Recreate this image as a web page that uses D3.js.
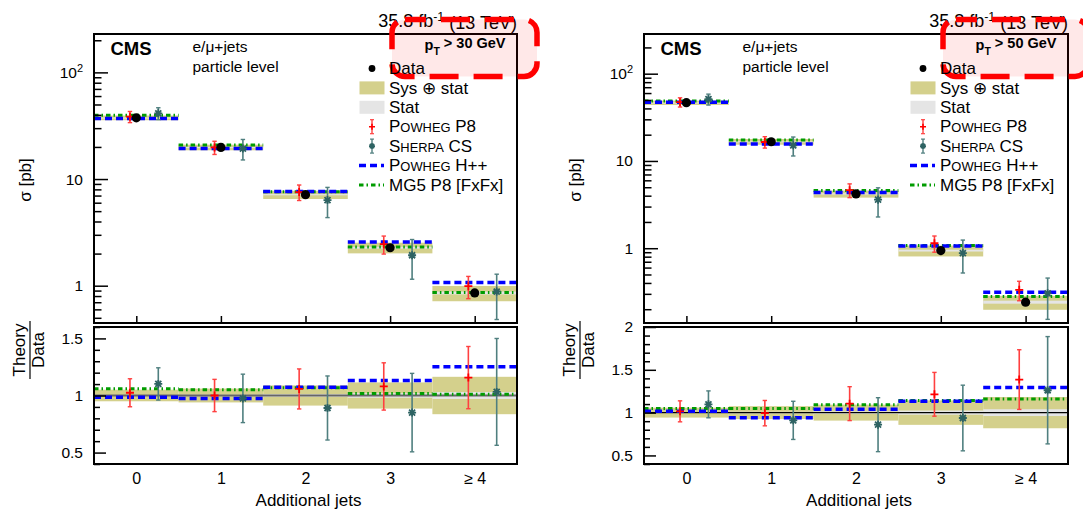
<!DOCTYPE html>
<html>
<head>
<meta charset="utf-8">
<script src="https://cdn.jsdelivr.net/npm/d3@7"></script>
<style>
  html, body { margin: 0; padding: 0; background: #fff; }
  svg { display: block; }
  text { font-family: "Liberation Sans", Arial, Helvetica, sans-serif; fill: #000; }
</style>
</head>
<body>
<svg id="chart" width="1083" height="513"></svg>
<script>
// Jet multiplicity bins
const categories = ["0", "1", "2", "3", "≥ 4"];
const xsTickValues = [1, 10, 100];
const ratioTicks30 = [0.5, 1, 1.5];
const ratioTicks50 = [0.5, 1, 1.5, 2];
const legendLabels = ["Data", "Sys ⊕ stat", "Stat", "Powheg P8", "Sherpa CS", "Powheg H++", "MG5 P8 [FxFx]"];

// pT > 30 GeV: cross sections in pb
const data30 = [37.5, 19.8, 7.13, 2.27, 0.855];
const sysStat30 = [1.9, 1.2, 0.63, 0.26, 0.14];
const stat30 = [0.19, 0.14, 0.085, 0.045, 0.026];
const powhegP8_30 = [38.4, 19.8, 7.54, 2.45, 0.989];
const powhegP8Err30 = [4.6, 2.8, 1.25, 0.47, 0.233];
const sherpa30 = [41.3, 19.3, 6.35, 1.93, 0.882];
const sherpaErr30 = [5.3, 4.2, 2.0, 0.78, 0.40];
const powhegHpp30 = [36.9, 19.3, 7.64, 2.57, 1.07];
const mg5_30 = [39.7, 20.8, 7.61, 2.31, 0.864];

// pT > 50 GeV: cross sections in pb
const data50 = [46.5, 16.6, 4.19, 0.939, 0.241];
const sysStat50 = [2.7, 1.25, 0.39, 0.134, 0.044];
const stat50 = [0.33, 0.17, 0.063, 0.023, 0.0096];
const powhegP8_50 = [47.2, 16.5, 4.63, 1.14, 0.334];
const powhegP8Err50 = [5.7, 2.46, 0.83, 0.24, 0.084];
const sherpa50 = [51.0, 15.1, 3.60, 0.88, 0.304];
const sherpaErr50 = [7.3, 3.7, 1.32, 0.36, 0.151];
const powhegHpp50 = [47.2, 15.6, 4.35, 1.063, 0.312];
const mg5_50 = [48.8, 17.4, 4.58, 1.071, 0.279];

const COLORS = {
  band: "#d4d08c",
  stat: "#e5e5e5",
  p8: "#ff0000",
  p8Err: "#ff4040",
  sherpa: "#2e6363",
  sherpaErr: "#4f7f7f",
  hpp: "#0000ff",
  mg5: "#009c00"
};
const HPP_DASH = "7,4";
const MG5_DASH = "4.5,3,1.5,3";
const FONT = 17;

const svg = d3.select("#chart");
const defs = svg.append("defs");

const TOP = 34, MID = 323, LOW_TOP = 327, BOTTOM = 464;

// text with small caps for generator names
function smallCapsText(sel, label, size) {
  const words = label.split(" ");
  words.forEach((w, k) => {
    const sep = k > 0 ? " " : "";
    if (w === "Powheg" || w === "Sherpa") {
      sel.append("tspan").attr("font-size", size).text(sep + w[0]);
      sel.append("tspan").attr("font-size", size * 0.76).text(w.slice(1).toUpperCase());
    } else {
      sel.append("tspan").attr("font-size", size).text(sep + w);
    }
  });
}

const plusPath = "M-4,0H4M0,-4V4";
const starPath = "M-4,0H4M0,-4V4M-3,-3L3,3M-3,3L3,-3";

function drawPanel(p, idx) {
  const g = svg.append("g");
  const x = d3.scaleLinear().domain([-0.5, 4.5]).range([p.left, p.right]);
  const y = d3.scaleLog().domain(p.xsDomain).range([MID, TOP]);
  const r = d3.scaleLinear().domain(p.ratioDomain).range([BOTTOM, LOW_TOP]);
  const bins = d3.range(categories.length);
  const bw = x(0.5) - x(-0.5);

  const clipU = "clipU" + idx, clipL = "clipL" + idx;
  defs.append("clipPath").attr("id", clipU).append("rect")
    .attr("x", p.left).attr("y", TOP).attr("width", p.right - p.left).attr("height", MID - TOP);
  defs.append("clipPath").attr("id", clipL).append("rect")
    .attr("x", p.left).attr("y", LOW_TOP).attr("width", p.right - p.left).attr("height", BOTTOM - LOW_TOP);

  const up = g.append("g").attr("clip-path", `url(#${clipU})`);
  const lo = g.append("g").attr("clip-path", `url(#${clipL})`);

  // ----- upper panel: cross sections -----
  up.selectAll("rect.sys").data(bins).join("rect").attr("class", "sys")
    .attr("x", i => x(i - 0.5)).attr("width", bw)
    .attr("y", i => y(p.data[i] + p.sys[i]))
    .attr("height", i => y(p.data[i] - p.sys[i]) - y(p.data[i] + p.sys[i]))
    .attr("fill", COLORS.band);
  up.selectAll("rect.stat").data(bins).join("rect").attr("class", "stat")
    .attr("x", i => x(i - 0.5)).attr("width", bw)
    .attr("y", i => y(p.data[i] + p.stat[i]))
    .attr("height", i => Math.max(1, y(p.data[i] - p.stat[i]) - y(p.data[i] + p.stat[i])))
    .attr("fill", COLORS.stat);

  function steps(layer, vals, yScale, color, dash, width) {
    layer.append("g").selectAll("line").data(bins).join("line")
      .attr("x1", i => x(i - 0.5)).attr("x2", i => x(i + 0.5))
      .attr("y1", i => yScale(vals[i])).attr("y2", i => yScale(vals[i]))
      .attr("stroke", color).attr("stroke-width", width).attr("stroke-dasharray", dash);
  }
  function points(layer, vals, errs, yScale, off, color, errColor, marker) {
    const gg = layer.append("g");
    bins.forEach(i => {
      const cx = x(i + off);
      const y1 = yScale(vals[i] + errs[i]), y2 = yScale(Math.max(vals[i] - errs[i], 1e-3));
      gg.append("line").attr("x1", cx).attr("x2", cx).attr("y1", y1).attr("y2", y2)
        .attr("stroke", errColor).attr("stroke-width", 1.6);
      [y1, y2].forEach(yy => gg.append("line").attr("x1", cx - 2.2).attr("x2", cx + 2.2)
        .attr("y1", yy).attr("y2", yy).attr("stroke", errColor).attr("stroke-width", 1.4));
      gg.append("path").attr("d", marker).attr("transform", `translate(${cx},${yScale(vals[i])})`)
        .attr("stroke", color).attr("stroke-width", 1.8).attr("fill", "none");
    });
  }

  steps(up, p.mg5, y, COLORS.mg5, MG5_DASH, 3);
  steps(up, p.hpp, y, COLORS.hpp, HPP_DASH, 3.5);
  points(up, p.p8, p.p8Err, y, -0.075, COLORS.p8, COLORS.p8Err, plusPath);
  points(up, p.sherpa, p.sherpaErr, y, 0.26, COLORS.sherpa, COLORS.sherpaErr, starPath);
  up.selectAll("circle").data(bins).join("circle")
    .attr("cx", i => x(i)).attr("cy", i => y(p.data[i])).attr("r", 4.6).attr("fill", "#000");

  // ----- lower panel: theory / data -----
  const rel = (arr) => arr.map((v, i) => v / p.data[i]);
  const sysR = rel(p.sys), statR = rel(p.stat);
  lo.selectAll("rect.sys").data(bins).join("rect").attr("class", "sys")
    .attr("x", i => x(i - 0.5)).attr("width", bw)
    .attr("y", i => r(1 + sysR[i])).attr("height", i => r(1 - sysR[i]) - r(1 + sysR[i]))
    .attr("fill", COLORS.band);
  lo.selectAll("rect.stat").data(bins).join("rect").attr("class", "stat")
    .attr("x", i => x(i - 0.5)).attr("width", bw)
    .attr("y", i => r(1 + statR[i])).attr("height", i => r(1 - statR[i]) - r(1 + statR[i]))
    .attr("fill", COLORS.stat);
  lo.append("line").attr("x1", p.left).attr("x2", p.right).attr("y1", r(1)).attr("y2", r(1))
    .attr("stroke", p.unityColor).attr("stroke-width", p.unityWidth);
  steps(lo, rel(p.mg5), r, COLORS.mg5, MG5_DASH, 3);
  steps(lo, rel(p.hpp), r, COLORS.hpp, HPP_DASH, 3.5);
  points(lo, rel(p.p8), rel(p.p8Err), r, -0.075, COLORS.p8, COLORS.p8Err, plusPath);
  points(lo, rel(p.sherpa), rel(p.sherpaErr), r, 0.26, COLORS.sherpa, COLORS.sherpaErr, starPath);

  // ----- axes -----
  const [lo10, hi10] = p.xsDomain.map(Math.log10);
  const minorVals = [];
  for (let e = Math.floor(lo10); e <= Math.ceil(hi10); e++) {
    for (let m = 2; m <= 9; m++) {
      const v = m * Math.pow(10, e);
      if (v > p.xsDomain[0] && v < p.xsDomain[1]) minorVals.push(v);
    }
  }
  const yMinor = g.append("g").attr("transform", `translate(${p.left},0)`)
    .call(d3.axisLeft(y).tickValues(minorVals).tickSize(-7.5).tickFormat(""));
  const yMajor = g.append("g").attr("transform", `translate(${p.left},0)`)
    .call(d3.axisLeft(y).tickValues(xsTickValues).tickSize(-14).tickPadding(11).tickFormat(d => d === 100 ? "10" : String(d)));
  yMajor.selectAll(".tick text").filter(d => d === 100)
    .append("tspan").attr("dy", "-0.55em").attr("font-size", 11).text("2");

  const rMinorVals = d3.range(Math.ceil(p.ratioDomain[0] * 10), Math.floor(p.ratioDomain[1] * 10) + 1)
    .map(k => k / 10).filter(v => Math.abs(v * 2 - Math.round(v * 2)) > 1e-6);
  const rMinor = g.append("g").attr("transform", `translate(${p.left},0)`)
    .call(d3.axisLeft(r).tickValues(rMinorVals).tickSize(-6).tickFormat(""));
  const rMajor = g.append("g").attr("transform", `translate(${p.left},0)`)
    .call(d3.axisLeft(r).tickValues(p.ratioTicks).tickSize(-12).tickPadding(11).tickFormat(d3.format("")));

  const xUpper = g.append("g").attr("transform", `translate(0,${MID})`)
    .call(d3.axisBottom(x).tickValues(bins).tickSize(-7).tickFormat(""));
  const xLower = g.append("g").attr("transform", `translate(0,${BOTTOM})`)
    .call(d3.axisBottom(x).tickValues(bins).tickSize(0).tickPadding(9).tickFormat(i => categories[i]));

  [yMinor, yMajor, rMinor, rMajor, xUpper, xLower].forEach(a => {
    a.select(".domain").remove();
    a.selectAll(".tick line").attr("stroke", "#000").attr("stroke-width", 1.5);
    a.selectAll(".tick text").attr("font-size", FONT - 1.5)
      .attr("font-family", '"Liberation Sans", Arial, sans-serif').attr("fill", "#000");
  });
  xLower.selectAll(".tick text").attr("font-size", FONT - 1);

  // frames
  g.append("rect").attr("x", p.left).attr("y", TOP).attr("width", p.right - p.left).attr("height", MID - TOP)
    .attr("fill", "none").attr("stroke", "#000").attr("stroke-width", 2);
  g.append("rect").attr("x", p.left).attr("y", LOW_TOP).attr("width", p.right - p.left).attr("height", BOTTOM - LOW_TOP)
    .attr("fill", "none").attr("stroke", "#000").attr("stroke-width", 2);

  // axis titles
  g.append("text").attr("x", (p.left + p.right) / 2 + 3).attr("y", 506)
    .attr("text-anchor", "middle").attr("font-size", FONT).text("Additional jets");
  const sig = g.append("text").attr("transform", `translate(${p.left - 63},180) rotate(-90)`)
    .attr("text-anchor", "middle").attr("font-size", FONT);
  sig.append("tspan").text("σ [pb]");
  const frac = g.append("g").attr("transform", `translate(${p.left - 64},350) rotate(-90)`);
  frac.append("text").attr("text-anchor", "middle").attr("y", -5).attr("font-size", FONT).text("Theory");
  frac.append("line").attr("x1", -29).attr("x2", 29).attr("y1", 0).attr("y2", 0)
    .attr("stroke", "#000").attr("stroke-width", 1.2);
  frac.append("text").attr("text-anchor", "middle").attr("y", 14).attr("font-size", FONT).text("Data");

  // labels inside the frame
  g.append("text").attr("x", p.left + 16.5).attr("y", 55).attr("font-size", 18.5)
    .attr("font-weight", "bold").text("CMS");
  g.append("text").attr("x", p.left + 98.5).attr("y", 52).attr("font-size", 15.5).text("e/μ+jets");
  g.append("text").attr("x", p.left + 98.5).attr("y", 72).attr("font-size", 15.5).text("particle level");

  // luminosity
  const lumi = g.append("text").attr("x", p.right).attr("y", 27).attr("text-anchor", "end").attr("font-size", 18);
  lumi.append("tspan").text("35.8 fb");
  lumi.append("tspan").attr("dy", "-0.45em").attr("font-size", 12.5).text("-1");
  lumi.append("tspan").attr("dy", "0.45em").text(" (13 TeV)");

  // highlighted pT threshold
  g.append("rect").attr("x", p.right - 125).attr("y", 19.5).attr("width", 145).attr("height", 57)
    .attr("rx", 13).attr("ry", 13)
    .attr("fill", "rgba(255,0,0,0.09)").attr("stroke", "#ff0000").attr("stroke-width", 5.5)
    .attr("stroke-dasharray", "29,15").attr("stroke-dashoffset", 8);
  const pt = g.append("text").attr("x", p.right - 11.5).attr("y", 50).attr("text-anchor", "end")
    .attr("font-size", 14.5).attr("font-weight", "bold");
  pt.append("tspan").text("p");
  pt.append("tspan").attr("dy", "0.45em").attr("font-size", 10.5).text("T");
  pt.append("tspan").attr("dy", "-0.45em").text(` > ${p.ptCut} GeV`);

  // legend
  const lg = g.append("g");
  const mx = p.right - 145;
  legendLabels.forEach((label, k) => {
    const ly = 68.5 + k * 19.4;
    const t = lg.append("text").attr("x", p.right - 128).attr("y", ly).attr("dy", "0.36em");
    smallCapsText(t, label, FONT);
    if (k === 0) {
      lg.append("circle").attr("cx", mx).attr("cy", ly).attr("r", 3.4).attr("fill", "#000");
    } else if (k === 1 || k === 2) {
      lg.append("rect").attr("x", mx - 12.5).attr("y", ly - 6.5).attr("width", 25).attr("height", 13)
        .attr("fill", k === 1 ? COLORS.band : COLORS.stat);
    } else if (k === 3 || k === 4) {
      const ec = k === 3 ? COLORS.p8Err : COLORS.sherpaErr;
      const mc = k === 3 ? COLORS.p8 : COLORS.sherpa;
      lg.append("line").attr("x1", mx).attr("x2", mx).attr("y1", ly - 7).attr("y2", ly + 7)
        .attr("stroke", ec).attr("stroke-width", 1.4);
      [ly - 7, ly + 7].forEach(yy => lg.append("line").attr("x1", mx - 2).attr("x2", mx + 2)
        .attr("y1", yy).attr("y2", yy).attr("stroke", ec).attr("stroke-width", 1.2));
      lg.append("path").attr("d", k === 3 ? "M-3,0H3M0,-3V3" : "M-3,0H3M0,-3V3M-2.2,-2.2L2.2,2.2M-2.2,2.2L2.2,-2.2")
        .attr("transform", `translate(${mx},${ly})`).attr("stroke", mc).attr("stroke-width", 1.6).attr("fill", "none");
    } else {
      lg.append("line").attr("x1", mx - 13).attr("x2", mx + 12).attr("y1", ly).attr("y2", ly)
        .attr("stroke", k === 5 ? COLORS.hpp : COLORS.mg5).attr("stroke-width", k === 5 ? 3.5 : 3)
        .attr("stroke-dasharray", k === 5 ? HPP_DASH : MG5_DASH);
    }
  });
}

drawPanel({
  left: 94, right: 517, xsDomain: [0.447, 229], ratioDomain: [0.4, 1.6], ratioTicks: ratioTicks30,
  data: data30, sys: sysStat30, stat: stat30, p8: powhegP8_30, p8Err: powhegP8Err30,
  sherpa: sherpa30, sherpaErr: sherpaErr30, hpp: powhegHpp30, mg5: mg5_30, ptCut: 30,
  unityColor: "#666", unityWidth: 2
}, 0);

drawPanel({
  left: 644, right: 1068, xsDomain: [0.139, 285], ratioDomain: [0.4, 2.0], ratioTicks: ratioTicks50,
  data: data50, sys: sysStat50, stat: stat50, p8: powhegP8_50, p8Err: powhegP8Err50,
  sherpa: sherpa50, sherpaErr: sherpaErr50, hpp: powhegHpp50, mg5: mg5_50, ptCut: 50,
  unityColor: "#000", unityWidth: 1.2
}, 1);
</script>
</body>
</html>
